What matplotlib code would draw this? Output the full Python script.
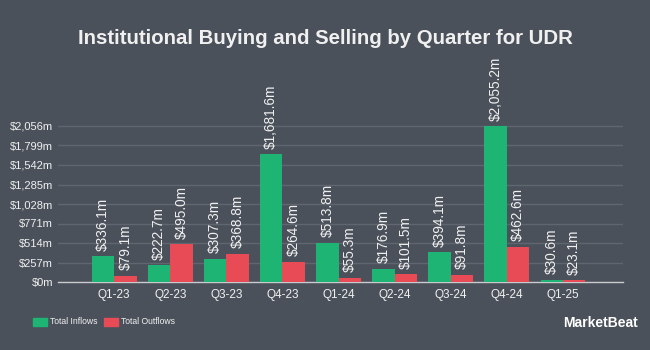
# Institutional buying and selling by quarter for UDR - grouped bar chart
import matplotlib.pyplot as plt
import numpy as np
from matplotlib.patches import Rectangle

plt.rcParams['font.family'] = ['Liberation Sans', 'DejaVu Sans']

quarters = ['Q1-23', 'Q2-23', 'Q3-23', 'Q4-23', 'Q1-24', 'Q2-24', 'Q3-24', 'Q4-24', 'Q1-25']
inflows = [336.1, 222.7, 307.3, 1681.6, 513.8, 176.9, 394.1, 2055.2, 30.6]
outflows = [79.1, 495.0, 368.8, 264.6, 55.3, 101.5, 91.8, 462.6, 23.1]
yticks = [0, 257, 514, 771, 1028, 1285, 1542, 1799, 2056]

bg = '#4b515b'
green = '#1db474'
red = '#e84a56'
txt = '#f0f0f0'

fig = plt.figure(figsize=(6.5, 3.5), dpi=100, facecolor=bg)
ax = fig.add_axes([58 / 650, 68 / 350, 565 / 650, 172 / 350], facecolor=bg)

x = np.arange(len(quarters))
w = 0.4
b1 = ax.bar(x - w / 2, inflows, w, color=green, zorder=3)
b2 = ax.bar(x + w / 2, outflows, w, color=red, zorder=3)

for bars, vals in ((b1, inflows), (b2, outflows)):
    for bar, v in zip(bars, vals):
        ax.annotate(f'${v:,.1f}m', (bar.get_x() + bar.get_width() / 2, v),
                    xytext=(0, 4), textcoords='offset points',
                    rotation=90, ha='center', va='bottom',
                    color=txt, fontsize=9.8, annotation_clip=False)

ax.set_xlim(-1.0, 9.07)
ax.set_ylim(0, 2056 * 172 / 156)
ax.set_yticks(yticks)
ax.set_yticklabels([f'${t:,}m' for t in yticks])
ax.set_xticks(x)
ax.set_xticklabels(quarters)
ax.tick_params(colors=txt, labelsize=8, length=0)
ax.tick_params(axis='x', labelsize=8.5, pad=5)
ax.yaxis.grid(True, color='#60666f', linewidth=1, zorder=0)
for s in ['top', 'right', 'left']:
    ax.spines[s].set_visible(False)
ax.spines['bottom'].set_color('#c8cacd')
ax.spines['bottom'].set_linewidth(1)

fig.text(0.5, 1 - 38 / 350, 'Institutional Buying and Selling by Quarter for UDR',
         ha='center', va='center', color=txt, fontsize=14.7, fontweight='bold')

# legend
fig.patches.append(Rectangle((33 / 650, 1 - 326 / 350), 14 / 650, 8 / 350,
                             transform=fig.transFigure, color=green))
fig.text(50 / 650, 1 - 322 / 350, 'Total Inflows', color=txt, fontsize=6.2, va='center')
fig.patches.append(Rectangle((104 / 650, 1 - 326 / 350), 14 / 650, 8 / 350,
                             transform=fig.transFigure, color=red))
fig.text(121 / 650, 1 - 322 / 350, 'Total Outflows', color=txt, fontsize=6.2, va='center')

fig.text(638 / 650, 1 - 323 / 350, 'MarketBeat', color='white', fontsize=10,
         fontweight='bold', ha='right', va='center')

fig.savefig('out.png', dpi=100, facecolor=bg)
